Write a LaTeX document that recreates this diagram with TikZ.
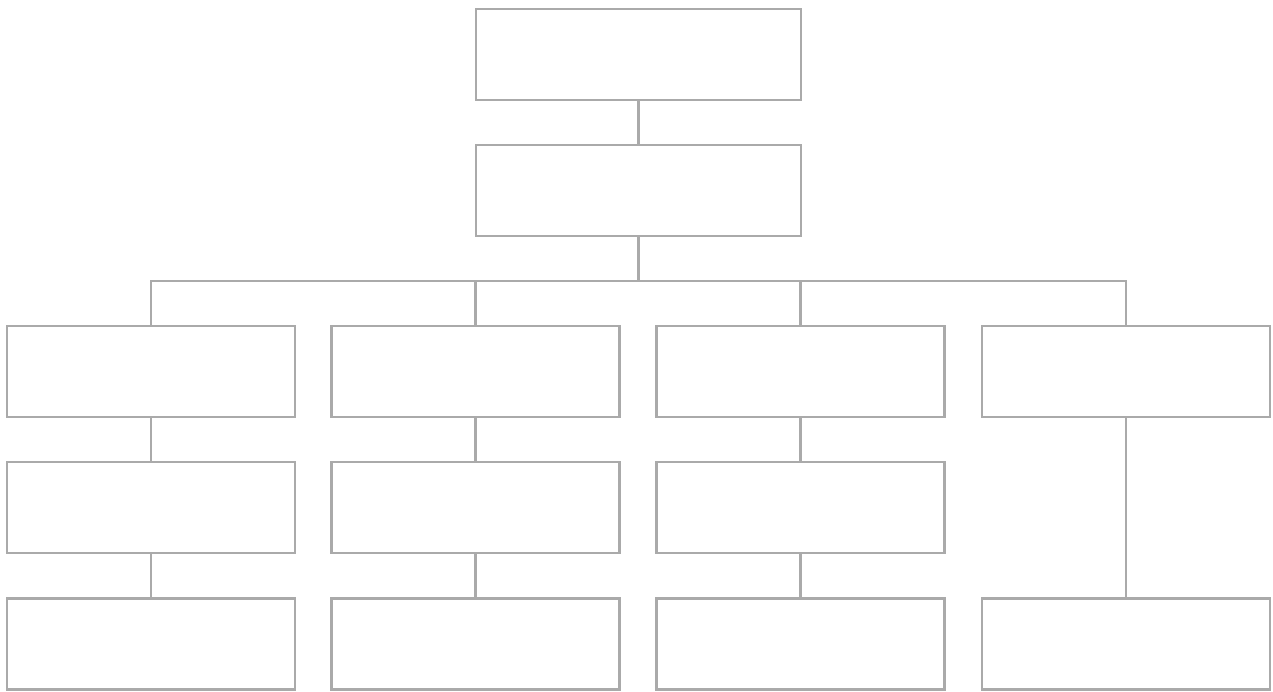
\documentclass[tikz,border=0pt]{standalone}
\usepackage{tikz}
\usetikzlibrary{positioning,calc}
\usepackage{xcolor}
\definecolor{boxgray}{RGB}{170,170,170}

\tikzset{
  orgbox/.style={draw=boxgray, line width=1.4pt, fill=white, minimum height=1.82cm, inner sep=0pt},
  topbox/.style={orgbox, minimum width=6.5cm},
  unitbox/.style={orgbox, minimum width=5.76cm},
  orgline/.style={draw=boxgray, line width=1.4pt}
}

\begin{document}
\begin{tikzpicture}[x=0.02cm,y=-0.02cm]
        \useasboundingbox (0,0) rectangle (1273,691);
        % upper two levels
        \node[topbox] (head) at (638.5,54.5) {};
        \node[topbox] (deputy) at (638.5,190.5) {};
        % four columns
        \node[unitbox] (a1) at (151,371.5) {};
        \node[unitbox] (b1) at (475.5,371.5) {};
        \node[unitbox] (c1) at (800.5,371.5) {};
        \node[unitbox] (d1) at (1126,371.5) {};
        \node[unitbox] (a2) at (151,507.5) {};
        \node[unitbox] (b2) at (475.5,507.5) {};
        \node[unitbox] (c2) at (800.5,507.5) {};
        \node[unitbox] (a3) at (151,644) {};
        \node[unitbox] (b3) at (475.5,644) {};
        \node[unitbox] (c3) at (800.5,644) {};
        \node[unitbox] (d3) at (1126,644) {};
        % connectors
        \coordinate (bus) at (638.5,281);
        \draw[orgline] (head) -- (deputy);
        \draw[orgline] (deputy) -- (bus);
        \foreach \n in {a1,b1,c1,d1}
          \draw[orgline] (bus) -| (\n.north);
        \foreach \n in {a,b,c}{
          \draw[orgline] (\n1) -- (\n2);
          \draw[orgline] (\n2) -- (\n3);
        }
        \draw[orgline] (d1) -- (d3);
      \end{tikzpicture}
\end{document}
